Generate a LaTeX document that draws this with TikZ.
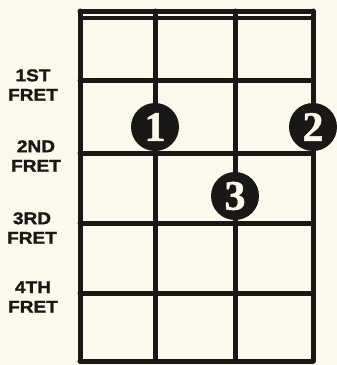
\documentclass[tikz,border=0pt]{standalone}
\usepackage{fontspec}
\newfontfamily\fretfont[FakeStretch=1.12, FakeBold=1.6]{Liberation Sans Bold}
\newfontfamily\digitfont[FakeBold=1.2]{Liberation Serif Bold}
\usepackage{xcolor}
\definecolor{paper}{RGB}{252,249,236}
\definecolor{ink}{RGB}{26,24,22}
\usetikzlibrary{positioning}

\begin{document}
\begin{tikzpicture}[
  x = 1pt, y = -1pt,
  grid/.style      = {draw=ink, line width=5pt, line cap=round, line join=round},
  fretlabel/.style = {align=center, inner sep=0pt, text=ink,
                      font=\fretfont\fontsize{17}{19.5}\selectfont},
  finger/.style    = {circle, fill=ink, minimum size=48pt, inner sep=0pt,
                      text=paper, font=\digitfont\fontsize{42}{42}\selectfont},
]
\fill[paper] (0,0) rectangle (337,365);
\useasboundingbox (0,0) rectangle (337,365);
% nut
\draw[grid] (80,11) -- (313,11);
\draw[grid, line width=4pt] (80,17.5) -- (313,17.5);
% strings and frets
\foreach \x in {80,155,235,313}
  \draw[grid] (\x,11) -- (\x,361);
\foreach \y in {80,153,223,293,361}
  \draw[grid] (80,\y) -- (313,\y);
% fret names
\node[fretlabel] (l1) at (33,85)  {1ST\\FRET};
\node[fretlabel] (l2) at (36,156) {2ND\\FRET};
\node[fretlabel] (l3) at (32,228) {3RD\\FRET};
\node[fretlabel] (l4) at (33,297) {4TH\\FRET};
% fingers
\node[finger] (d1) at (155,127) {1};
\node[finger] (d2) at (313,127) {2};
\node[finger] (d3) at (235,196) {3};
\end{tikzpicture}
\end{document}
